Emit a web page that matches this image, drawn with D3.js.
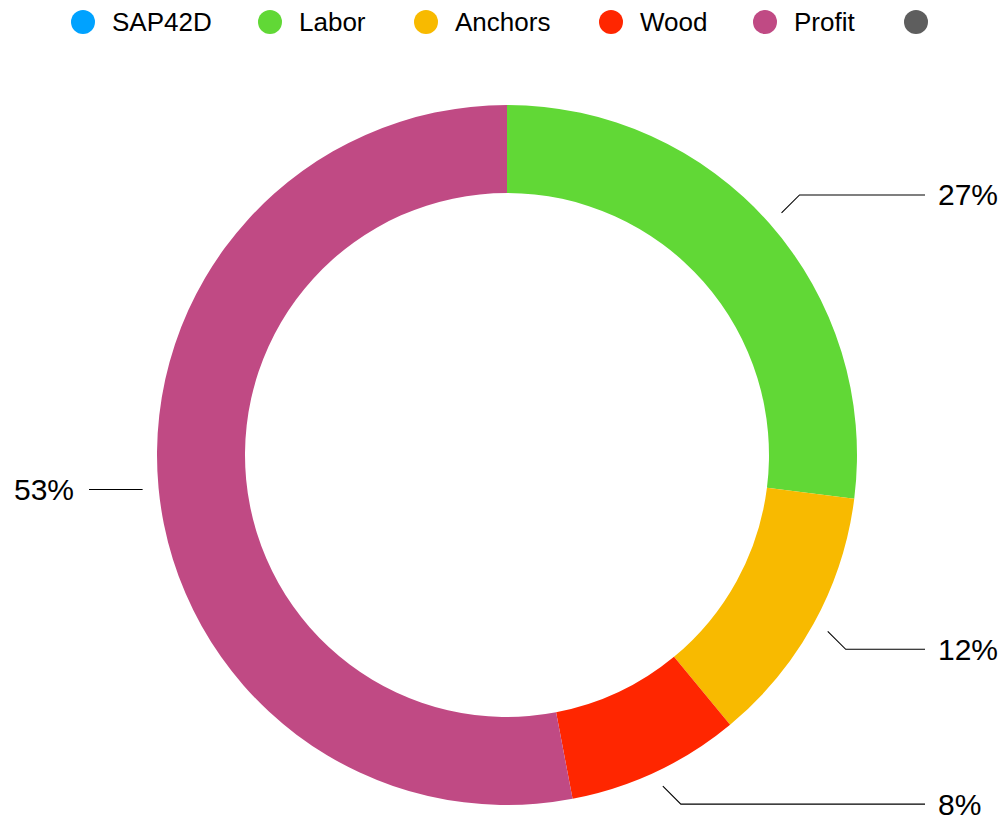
<!DOCTYPE html>
<html>
<head>
<meta charset="utf-8">
<script src="https://cdn.jsdelivr.net/npm/d3@7"></script>
<style>
    body { margin: 0; background: #fff; }
    svg { display: block; font-family: "Helvetica Neue", Helvetica, "Liberation Sans", Arial, sans-serif; }
</style>
</head>
<body>
<div id="chart"></div>
<script>

// data
var categories = [ 'SAP42D', 'Labor', 'Anchors', 'Wood', 'Profit', '' ];
var values = [ 0, 27, 12, 8, 53, 0 ];
var colors = [ '#00a2ff', '#61d836', '#f8ba00', '#ff2600', '#c04a84', '#5e5e5e' ];

var width = 1008,
    height = 823,
    cx = 507,
    cy = 455,
    outer = 350,
    inner = 262;

var svg = d3.select('#chart').append('svg')
    .attr('width', width)
    .attr('height', height);

// legend
var legendX = [ 83, 270, 426, 611, 765, 916 ];

var legend = svg.append('g').attr('class', 'legend');

var item = legend.selectAll('g')
    .data( categories )
    .enter().append('g')
    .attr('transform', function ( d, i ) { return 'translate(' + legendX[ i ] + ',22)' });

item.append('circle')
    .attr('r', 12)
    .style('fill', function ( d, i ) { return colors[ i ] });

item.append('text')
    .attr('x', 29)
    .attr('dy', '0.35em')
    .style('font-size', '26px')
    .style('fill', '#000')
    .text( function ( d ) { return d } );

// donut
var pie = d3.pie()
    .sort( null )
    .value( function ( d ) { return d } );

var arc = d3.arc()
    .outerRadius( outer )
    .innerRadius( inner );

var arcs = pie( values ).filter( function ( d ) { return d.data > 0 } );

var g = svg.append('g')
    .attr('transform', 'translate(' + cx + ',' + cy + ')');

g.selectAll('path')
    .data( arcs )
    .enter().append('path')
    .attr('d', arc)
    .style('fill', function ( d ) { return colors[ d.index ] });

// labels with leader lines (45 degree elbow, then flat to the edge)
var r1 = outer + 16,
    elbow = 18,
    edge = 418;

var total = d3.sum( values );

arcs.forEach( function ( d ) {

    var a = ( d.startAngle + d.endAngle ) / 2;
    var sx = Math.sin( a ), sy = -Math.cos( a );
    var right = sx >= 0;
    var k = Math.abs( sy ) > 0.3 ? elbow : 0;
    var p1 = [ r1 * sx, r1 * sy ],
        p2 = [ p1[ 0 ] + ( right ? k : -k ), p1[ 1 ] + ( sy < 0 ? -k : k ) ],
        p3 = [ right ? edge : -edge, p2[ 1 ] ];

    g.append('path')
        .attr('d', d3.line()([ p1, p2, p3 ]))
        .style('fill', 'none')
        .style('stroke', '#000')
        .style('stroke-width', 1.1);

    g.append('text')
        .attr('x', p3[ 0 ] + ( right ? 13 : -15 ))
        .attr('y', p3[ 1 ])
        .attr('dy', '0.35em')
        .attr('text-anchor', right ? 'start' : 'end')
        .style('font-size', '30px')
        .style('fill', '#000')
        .text( Math.round( d.data / total * 100 ) + '%' );

});

</script>
</body>
</html>
